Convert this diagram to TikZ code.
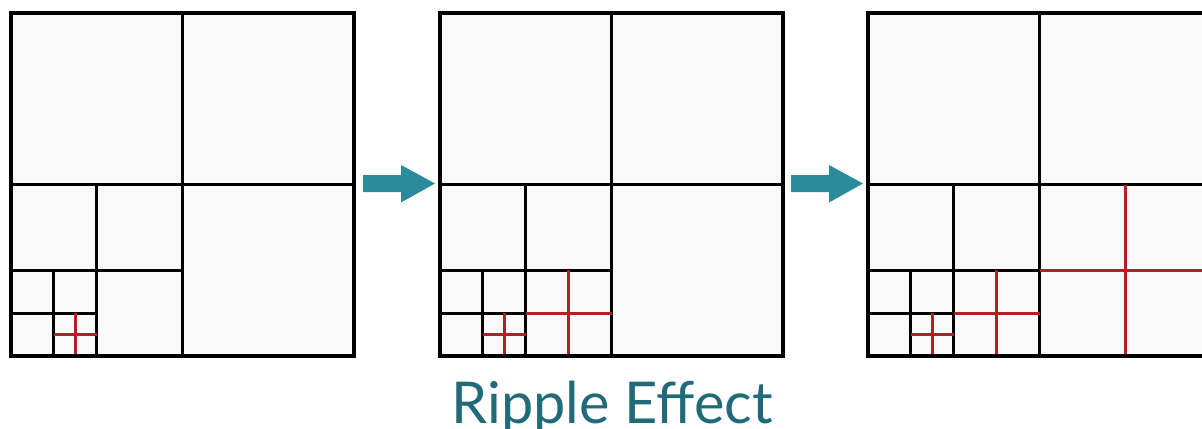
\documentclass[tikz,border=0pt]{standalone}
\usepackage{fontspec}
\setsansfont{Lato}
\usetikzlibrary{calc}

\definecolor{cellfill}{HTML}{F9F9F9}
\definecolor{splitred}{HTML}{B22026}
\definecolor{arrowteal}{HTML}{2C8A9D}
\definecolor{titleteal}{HTML}{216A79}

\tikzset{
  grid/.style={line width=2.2pt,draw=black},
  split/.style={line width=2.2pt,draw=splitred},
  blockarrow/.style={fill=arrowteal,draw=none},
}

% quadtree grid shared by all three panels (S = side)
\newcommand{\quadgrid}[1]{%
  \fill[cellfill] (0,0) rectangle (#1,#1);
  \draw[grid] (#1/2,0) -- (#1/2,#1);
  \draw[grid] (0,#1/2) -- (#1,#1/2);
  \draw[grid] (#1/4,#1/2) -- (#1/4,#1);
  \draw[grid] (0,3*#1/4) -- (#1/2,3*#1/4);
  \draw[grid] (#1/8,3*#1/4) -- (#1/8,#1);
  \draw[grid] (0,7*#1/8) -- (#1/4,7*#1/8);
}

\begin{document}
\begin{tikzpicture}[x=0.025cm,y=-0.025cm]
\useasboundingbox (0,0) rectangle (1202,428);
\fill[white] (0,0) rectangle (1202,428);
\def\S{343}
%
\coordinate (P1) at (11,13);
\coordinate (P2) at (440,13);
\coordinate (P3) at (868,13);
%
% first panel: deepest cell split
\begin{scope}[shift={(P1)}]
\quadgrid{\S}
\draw[split] (3*\S/16,7*\S/8) -- (3*\S/16,\S);
\draw[split] (\S/8,15*\S/16) -- (\S/4,15*\S/16);
\draw[grid] (0,0) rectangle (\S,\S);
\end{scope}
%
% second panel: neighbour split as well
\begin{scope}[shift={(P2)}]
\quadgrid{\S}
\draw[split] (3*\S/16,7*\S/8) -- (3*\S/16,\S);
\draw[split] (\S/8,15*\S/16) -- (\S/4,15*\S/16);
\draw[split] (3*\S/8,3*\S/4) -- (3*\S/8,\S);
\draw[split] (\S/4,7*\S/8) -- (\S/2,7*\S/8);
\draw[grid] (0,0) rectangle (\S,\S);
\end{scope}
%
% third panel: split reaches the big quadrant
\begin{scope}[shift={(P3)}]
\quadgrid{\S}
\draw[split] (3*\S/16,7*\S/8) -- (3*\S/16,\S);
\draw[split] (\S/8,15*\S/16) -- (\S/4,15*\S/16);
\draw[split] (3*\S/8,3*\S/4) -- (3*\S/8,\S);
\draw[split] (\S/4,7*\S/8) -- (\S/2,7*\S/8);
\draw[split] (3*\S/4,\S/2) -- (3*\S/4,\S);
\draw[split] (\S/2,3*\S/4) -- (\S,3*\S/4);
\draw[grid] (0,0) rectangle (\S,\S);
\end{scope}
%
% block arrows between panels
\coordinate (A1) at (363,183.5);
\coordinate (A2) at (791,183.5);
\fill[blockarrow] (A1) ++(0,-8.5) -- ++(38,0) -- ++(0,-10) -- ++(34,18.5) -- ++(-34,19) -- ++(0,-10.5) -- ++(-38,0) -- cycle;
\fill[blockarrow] (A2) ++(0,-8.5) -- ++(38,0) -- ++(0,-10) -- ++(34,18.5) -- ++(-34,19) -- ++(0,-10.5) -- ++(-38,0) -- cycle;
%
\node[anchor=base,text=titleteal,font=\sffamily\fontsize{41}{48}\selectfont,inner sep=0pt] (title) at (612,423) {Ripple Effect};
\end{tikzpicture}
\end{document}
